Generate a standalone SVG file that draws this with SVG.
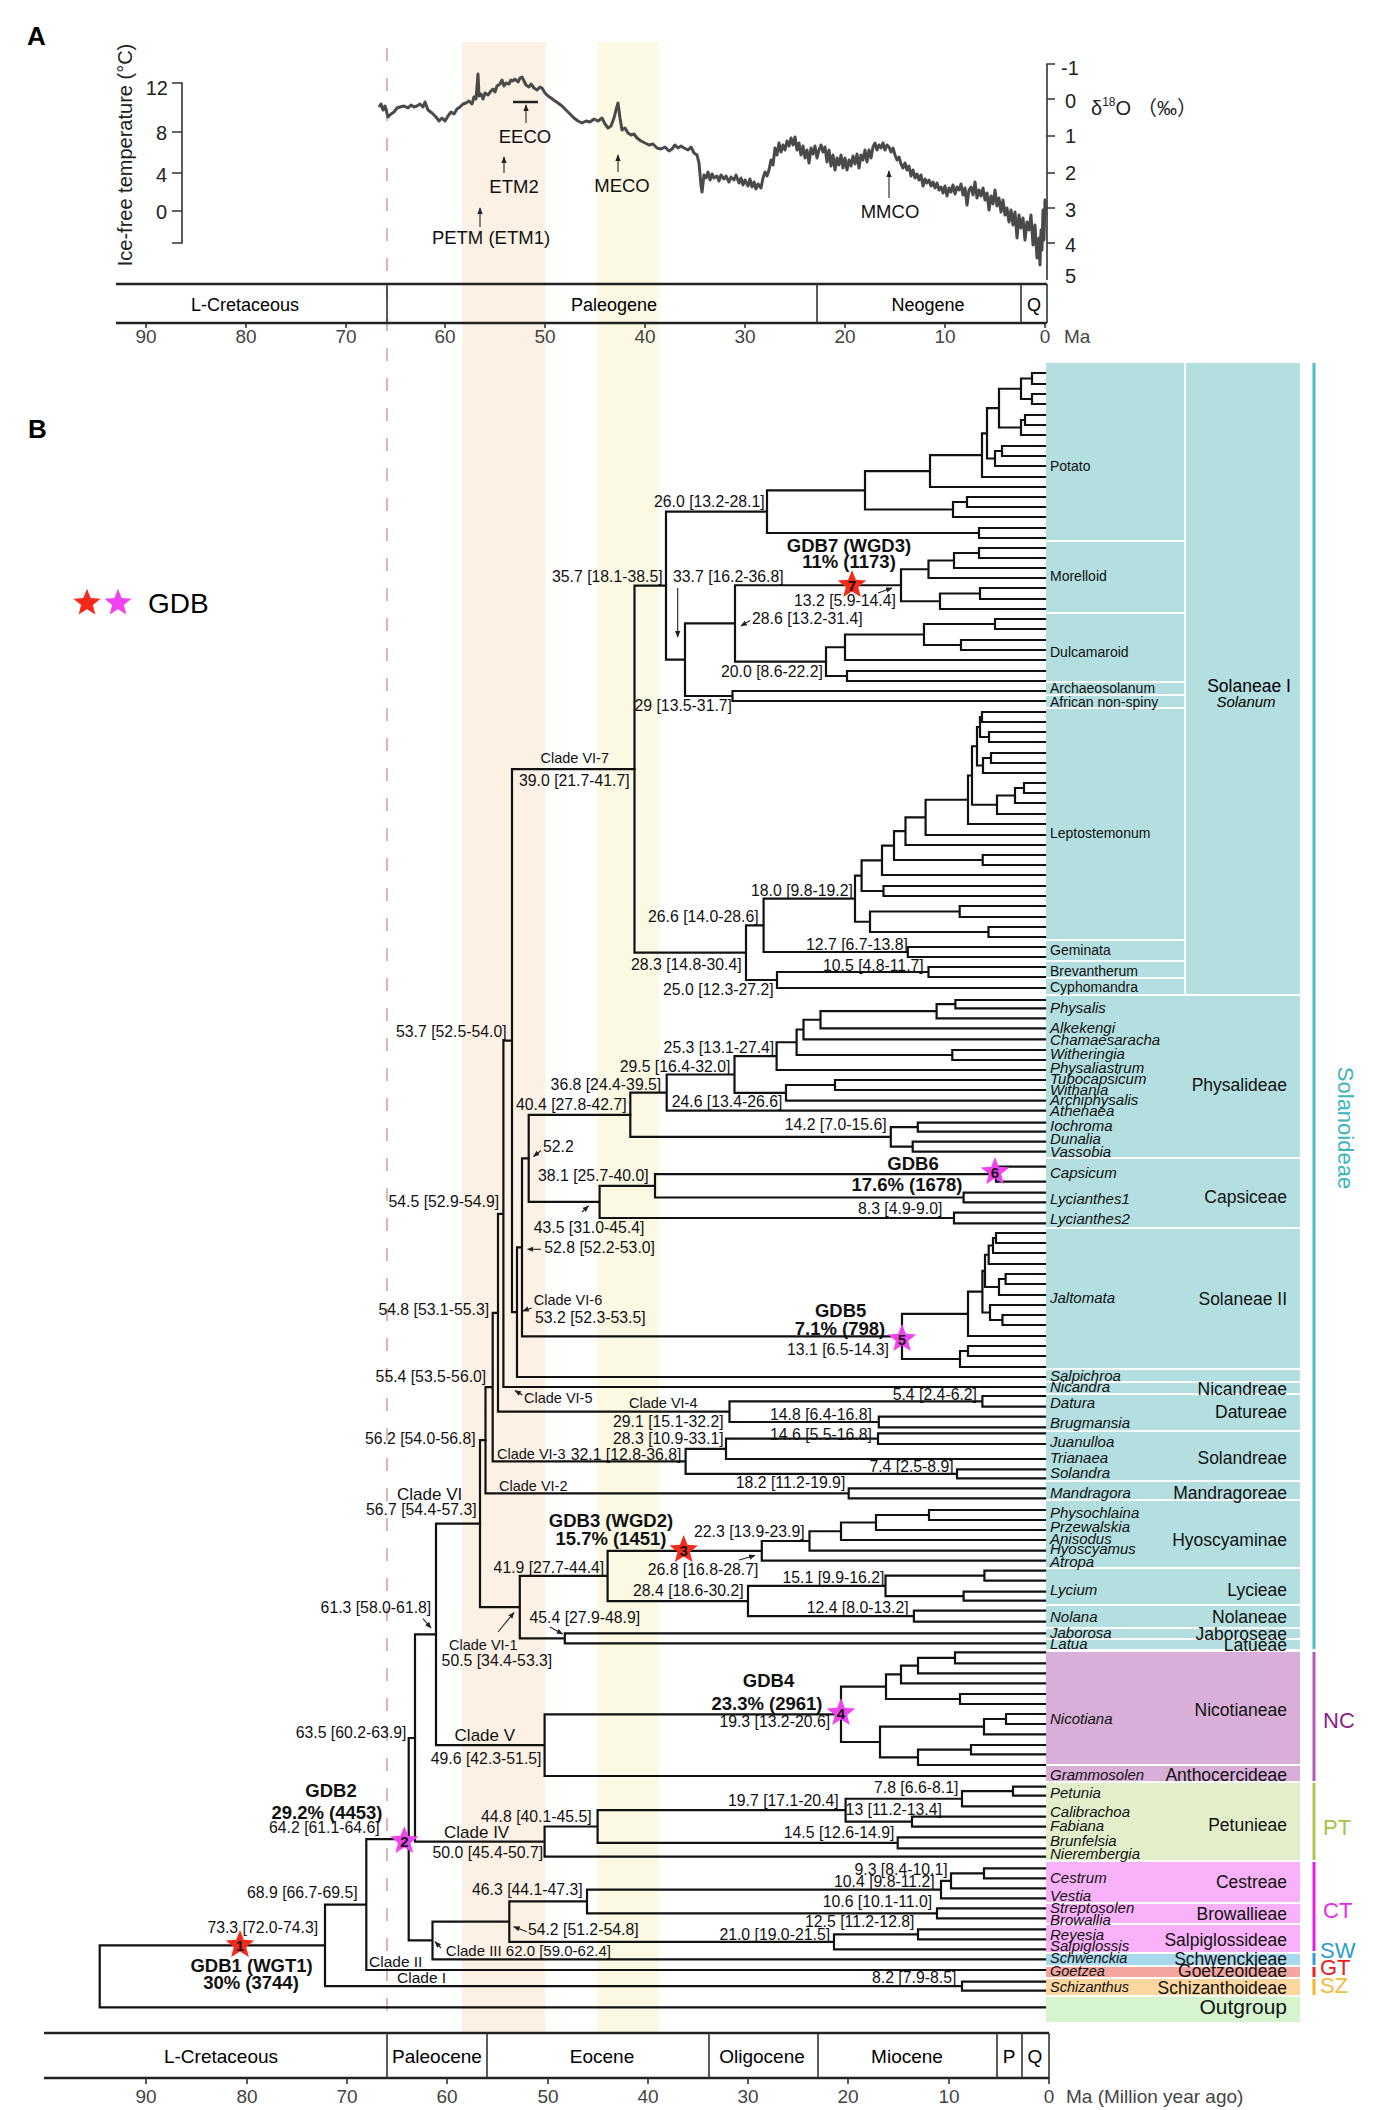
<svg xmlns="http://www.w3.org/2000/svg" xmlns:xlink="http://www.w3.org/1999/xlink" width="1384" height="2110" viewBox="0 0 1384 2110">
<style>
text{font-family:"Liberation Sans",Arial,sans-serif}
.br{fill:none;stroke:#111;stroke-width:2.2;stroke-linejoin:miter;stroke-linecap:square}
.ax{fill:none;stroke:#333;stroke-width:1.6}
.axb{fill:none;stroke:#222;stroke-width:2.6}
.nl{font-size:15.8px;fill:#111}
.cl{font-size:14.5px;fill:#111}
.cb{font-size:17px;fill:#111}
.gd{font-size:18.5px;font-weight:bold;text-anchor:middle;fill:#111}
.tip{font-size:15px;font-style:italic;fill:#111}
.sub{font-size:14px;fill:#111}
.tr{font-size:17.5px;text-anchor:end;fill:#111}
.sn{font-size:15px;font-weight:bold;text-anchor:middle;fill:#111}
.tk{font-size:19px;fill:#444;text-anchor:middle}
.ar{fill:none;stroke:#222;stroke-width:1.1}
.ev{font-size:18.5px;text-anchor:middle;fill:#111}
.gl{font-size:22px}
</style>
<defs>
<marker id="ah" viewBox="0 0 10 10" refX="9" refY="5" markerWidth="6" markerHeight="6" orient="auto"><path d="M0,1 L10,5 L0,9 z" fill="#222"/></marker>
<path id="star" d="M0,-15 L3.8,-5.3 L14.3,-4.6 L6.2,2 L8.8,12.1 L0,6.5 L-8.8,12.1 L-6.2,2 L-14.3,-4.6 L-3.8,-5.3 Z"/>
</defs>
<rect width="1384" height="2110" fill="#fff"/>
<g id="bands">
<rect x="462" y="42" width="83.5" height="1991" fill="#fdf1e6"/>
<rect x="597" y="42" width="62" height="1991" fill="#fbf9e4"/>
<line x1="387" y1="48" x2="387" y2="2018" stroke="#d6a3a3" stroke-width="1.6" stroke-dasharray="13 17"/>
</g>
<g id="panelA">
<text x="27" y="45" font-size="26" font-weight="bold">A</text>
<path class="ax" d="M172 83H182V243H172M172 132H182M172 173H182M172 211H182"/>
<g font-size="20" text-anchor="end" fill="#222"><text x="168" y="95">12</text><text x="167" y="140">8</text><text x="167" y="182">4</text><text x="167" y="219">0</text></g>
<text transform="translate(132,155) rotate(-90)" font-size="20" text-anchor="middle" fill="#222">Ice-free temperature (°C)</text>
<path class="ax" d="M1055 64H1047V280M1047 99H1055M1047 136H1055M1047 173H1055M1047 208H1055M1047 243H1055"/>
<g font-size="20" fill="#222"><text x="1061" y="75">-1</text><text x="1065" y="108">0</text><text x="1065" y="143">1</text><text x="1065" y="180">2</text><text x="1065" y="217">3</text><text x="1065" y="252">4</text><text x="1065" y="283">5</text></g>
<text x="1091" y="115" font-size="20" fill="#222">δ<tspan font-size="12" dy="-9">18</tspan><tspan dy="9">O</tspan><tspan dx="6" font-family="'Liberation Sans','Noto Sans CJK SC',sans-serif">（‰）</tspan></text>
<polyline fill="none" stroke="#4a4a4a" stroke-width="3" stroke-linejoin="round" points="379,107 381,104 383,110 385,106 388,117 391,114 394,112 397,108 400,107 404,106 408,108 411,105 414,107 417,106 420,104 423,107 425,102 428,110 432,113 436,117 439,121 442,118 445,121 448,116 451,112 454,114 457,109 460,107 463,104 466,103 469,101 472,104 474,97 476,99 478,74 479,96 481,94 483,99 485,93 488,95 491,91 493,89 495,92 497,86 500,84 502,80 504,86 506,83 509,84 511,80 513,81 515,79 518,82 520,78 522,77 524,81 526,85 529,87 531,84 534,88 537,90 540,87 542,88 545,93 548,96 551,98 555,101 558,103 562,106 566,110 570,114 574,118 578,121 582,123 586,121 590,122 594,119 598,121 602,118 605,124 608,128 611,126 614,118 616,110 618,103 620,118 622,130 625,128 628,133 631,135 634,134 637,138 641,141 645,143 649,145 653,144 657,148 661,149 665,147 669,151 672,149 675,145 678,148 681,146 684,148 688,150 691,147 694,153 697,155 699,163 701,185 702,192 704,175 706,178 708,172 710,180 712,174 714,178 717,176 719,181 721,175 724,179 726,176 729,182 731,177 734,180 736,175 739,183 741,178 743,185 745,180 748,186 750,179 752,187 754,182 756,189 758,184 761,188 763,178 765,172 767,176 769,170 771,160 773,165 775,148 777,155 779,143 781,152 783,145 785,150 787,141 789,146 791,138 793,145 795,137 797,150 799,143 801,155 803,146 805,158 807,150 809,163 811,148 813,154 815,146 817,158 819,150 821,145 823,152 825,147 827,162 829,150 831,166 833,155 835,170 837,158 839,165 841,155 843,168 845,158 847,170 849,160 851,166 853,156 855,164 857,154 859,168 861,155 863,160 865,150 867,162 869,150 871,158 873,147 875,143 877,150 879,145 881,148 883,143 885,150 887,145 889,147 891,152 893,148 895,155 897,160 899,157 901,164 903,168 905,163 907,170 909,166 911,176 913,170 915,178 917,174 919,180 921,175 923,186 925,179 927,183 929,180 931,186 933,182 935,188 937,183 939,190 941,187 943,193 945,186 947,196 949,188 951,192 953,185 955,194 957,187 959,190 961,184 963,195 965,188 967,205 969,190 971,187 973,195 975,182 977,198 979,190 981,196 983,188 985,200 987,193 989,210 991,196 993,204 995,190 997,206 999,198 1001,212 1003,200 1005,215 1007,208 1009,222 1011,210 1013,225 1015,212 1017,238 1019,215 1021,228 1023,218 1025,240 1027,222 1029,230 1031,215 1033,245 1035,225 1037,258 1039,238 1040,265 1041,230 1042,250 1043,210 1044,240 1045,200 1046,215"/>
<line x1="513" y1="102" x2="538" y2="102" stroke="#222" stroke-width="2.5"/>
<g class="ar"><line x1="526" y1="123" x2="526" y2="105" marker-end="url(#ah)"/><line x1="504" y1="173" x2="504" y2="157" marker-end="url(#ah)"/><line x1="480" y1="227" x2="480" y2="208" marker-end="url(#ah)"/><line x1="618" y1="172" x2="618" y2="155" marker-end="url(#ah)"/><line x1="889" y1="198" x2="889" y2="171" marker-end="url(#ah)"/></g>
<text class="ev" x="525" y="143">EECO</text><text class="ev" x="514" y="193">ETM2</text><text class="ev" x="491" y="244">PETM (ETM1)</text><text class="ev" x="622" y="192">MECO</text><text class="ev" x="890" y="218">MMCO</text>
<path class="axb" d="M116 284H1047M116 323H1047"/>
<path class="ax" d="M387 284V323M817 284V323M1021 284V323M1047 284V323"/>
<path class="ax" d="M146 323V328M246 323V328M346 323V328M445 323V328M545 323V328M645 323V328M745 323V328M845 323V328M945 323V328M1045 323V328"/>
<g font-size="18" text-anchor="middle"><text x="245" y="311">L-Cretaceous</text><text x="614" y="311">Paleogene</text><text x="928" y="311">Neogene</text><text x="1034" y="311">Q</text></g>
<g class="tk"><text x="146" y="343">90</text><text x="246" y="343">80</text><text x="346" y="343">70</text><text x="445" y="343">60</text><text x="545" y="343">50</text><text x="645" y="343">40</text><text x="745" y="343">30</text><text x="845" y="343">20</text><text x="945" y="343">10</text><text x="1045" y="343">0</text></g>
<text x="1064" y="343" font-size="19" fill="#444">Ma</text>
</g>
<g id="legend">
<text x="28" y="438" font-size="26" font-weight="bold">B</text>
<use href="#star" transform="translate(87,603) scale(0.95)" fill="#f52a1a"/>
<use href="#star" transform="translate(118,603) scale(0.95)" fill="#f043f0"/>
<text x="148" y="613" font-size="28">GDB</text>
</g>
<g id="blocks">
<g fill="#b3dfe0">
<rect x="1046" y="363" width="138" height="177"/><rect x="1046" y="542" width="138" height="70"/><rect x="1046" y="614" width="138" height="67"/><rect x="1046" y="683" width="138" height="11"/><rect x="1046" y="696" width="138" height="11"/><rect x="1046" y="709" width="138" height="230"/><rect x="1046" y="941" width="138" height="19"/><rect x="1046" y="962" width="138" height="15"/><rect x="1046" y="979" width="138" height="15"/>
<rect x="1186" y="363" width="114" height="631"/>
<rect x="1046" y="996" width="254" height="161"/><rect x="1046" y="1159" width="254" height="68"/><rect x="1046" y="1229" width="254" height="139"/><rect x="1046" y="1370" width="254" height="11"/><rect x="1046" y="1383" width="254" height="10"/><rect x="1046" y="1395" width="254" height="35"/><rect x="1046" y="1432" width="254" height="48"/><rect x="1046" y="1482" width="254" height="17"/><rect x="1046" y="1501" width="254" height="66"/><rect x="1046" y="1569" width="254" height="35"/><rect x="1046" y="1606" width="254" height="21"/><rect x="1046" y="1629" width="254" height="9"/><rect x="1046" y="1640" width="254" height="9"/>
</g>
<g fill="#d9afd9"><rect x="1046" y="1652" width="254" height="112"/><rect x="1046" y="1766" width="254" height="15"/></g>
<rect x="1046" y="1783" width="254" height="77" fill="#e3eecb"/>
<g fill="#f9b2f9"><rect x="1046" y="1862" width="254" height="40"/><rect x="1046" y="1904" width="254" height="19"/><rect x="1046" y="1925" width="254" height="27"/></g>
<rect x="1046" y="1954" width="254" height="11" fill="#a8d8ec"/>
<rect x="1046" y="1967" width="254" height="10" fill="#f4a5a0"/>
<rect x="1046" y="1979" width="254" height="16" fill="#fdd79f"/>
<rect x="1046" y="1997" width="254" height="25" fill="#d6f5cf"/>
</g>
<g id="subfamily-bars" stroke-width="3">
<line x1="1314" y1="363" x2="1314" y2="1649" stroke="#4dbcc4"/>
<line x1="1314" y1="1652" x2="1314" y2="1781" stroke="#b25bb2"/>
<line x1="1314" y1="1783" x2="1314" y2="1860" stroke="#a9c84c"/>
<line x1="1314" y1="1862" x2="1314" y2="1951" stroke="#e61fe6"/>
<line x1="1314" y1="1953" x2="1314" y2="1965" stroke="#2f9fd6"/>
<line x1="1314" y1="1967" x2="1314" y2="1977" stroke="#e52420"/>
<line x1="1314" y1="1979" x2="1314" y2="1995" stroke="#f5b52e"/>
</g>
<g id="subfamily-labels" class="gl">
<text transform="translate(1338,1128) rotate(90)" text-anchor="middle" style="fill:#3cb4bb">Solanoideae</text>
<text x="1323" y="1728" style="fill:#8c1d8c">NC</text>
<text x="1323" y="1835" style="fill:#a5c547">PT</text>
<text x="1323" y="1918" style="fill:#e82ae8">CT</text>
<text x="1320" y="1958" style="fill:#2b9bd1">SW</text>
<text x="1320" y="1975" style="fill:#e3211c">GT</text>
<text x="1320" y="1993" style="fill:#f6b93a">SZ</text>
</g>
<g id="connectors">
<path class="br" d="M1045 373H1032V384H1045M1045 394H1032V404H1045M1032 378.5H1021V399H1032M1045 415H1025V425H1045M1025 420H1021V435H1045M1021 388.75H999V427.5H1021M1045 446H1002V456H1045M1002 451H995V466H1045M999 408.1H987V458.5H995M987 433.3H982V477H1045M982 455.15H930V487H1045M1045 497H967V507H1045M967 502H953V517H1045M930 471.1H865V509.5H953M1045 528H979V538H1045M865 490.3H767V533H979"/>
<path class="br" d="M1045 548H979V558H1045M979 553H954V568H1045M954 560.5H928.5V578H1045M1045 588H980V599H1045M980 593.5H940V609H1045M928.5 569.25H901V601.25H940"/>
<path class="br" d="M1045 619H995V629H1045M1045 640H961V650H1045M995 624H924V645H961M924 634.5H845V660H1045M1045 671H847V681H1045M845 647.25H826V676H847"/>
<path class="br" d="M901 585.25H735V661.6H826M1045 691H732.5V701H1045M735 623.4H685V696H732.5M767 511.65H666V659.7H685"/>
<path class="br" d="M1045 712H982V722H1045M1045 732H989V742H1045M982 717H980V737H989M1045 753H991V763H1045M991 758H983V773H1045M980 727H977V765.5H983M1045 783H1024V793H1045M1024 788H1015V803H1045M1015 795.5H997V814H1045M977 746.25H972V804.75H997M972 775.5H968V824H1045M968 799.75H925.6V835H1045M925.6 817.4H905.5V845H1045M1045 855H982.7V865H1045M905.5 831.2H894V860H982.7M894 845.6H882V875H1045M1045 886H883.5V896H1045M882 860.3H861.6V891H883.5M1045 906H959.7V917H1045M1045 927H988.5V937H1045M959.7 911.5H870V932H988.5M861.6 875.65H855V921.75H870M1045 947H907.8V957H1045M855 898.7H763.6V952H907.8M1045 967H928.5V977H1045M928.5 972H777V988H1045M763.6 925.35H746V980H777M666 585.7H634.5V952.7H746"/>
<path class="br" d="M1045 1000H955.4V1008.3H1045M955.4 1004.15H936.6V1018.3H1045M936.6 1011.2H820.5V1028.3H1045M820.5 1019.75H803.5V1039.3H1045M1045 1050H952.3V1060H1045M803.5 1029.5H796.6V1055H952.3M796.6 1042.25H776.6V1070H1045M1045 1080H835V1090H1045M835 1085H786V1100.7H1045M776.6 1056.1H734.5V1092.85H786M734.5 1074.5H666.7V1110.7H1045M1045 1122.7H917.8V1131.7H1045M1045 1141.7H912.7V1151.7H1045M917.8 1127.2H890.8V1146.7H912.7M666.7 1092.6H630.3V1136.95H890.8"/>
<path class="br" d="M1045 1166.7H996V1181.7H1045M1045 1192.7H963.6V1202.3H1045M996 1174.2H655V1197.5H963.6M1045 1212.7H954V1223.3H1045M655 1185.85H599.6V1218H954M630.3 1114.8H528.7V1201.9H599.6"/>
<path class="br" d="M1045 1233H996V1243H1045M996 1238H993V1253H1045M993 1245.5H988.7V1264H1045M1045 1274H1005.6V1284H1045M1005.6 1279H999V1295H1045M988.7 1254.75H985V1287H999M1045 1315H1002.5V1325H1045M1045 1305H990V1320H1002.5M985 1270.9H982.4V1312.5H990M982.4 1291.7H968V1336H1045M1045 1346H968V1356H1045M968 1351H960V1367H1045M968 1313.85H902V1359H960"/>
<path class="br" d="M528.7 1158.35H522V1336.4H902M522 1247.4H517V1377H1045M634.5 769.2H512V1312.2H517M512 1040.7H503.4V1387H1045M1045 1396H982.4V1406.7H1045M1045 1416.7H878.8V1427.3H1045M982.4 1401.35H729.5V1422H878.8M503.4 1213.85H498V1411.7H729.5M1045 1433.3H878V1444H1045M878 1438.65H726V1459H1045M1045 1469.3H957V1478.3H1045M726 1448.8H685.6V1473.8H957M498 1312.8H492.7V1461.3H685.6M1045 1488.3H848.7V1498.3H1045M492.7 1387.05H485.5V1493.3H848.7"/>
<path class="br" d="M1045 1510H929V1520H1045M929 1515H876V1530H1045M876 1522.5H841V1540H1045M841 1531.25H809.5V1550.7H1045M809.5 1541H761.8V1560.7H1045M1045 1570.7H984.4V1580.7H1045M1045 1591.7H963.6V1600.7H1045M984.4 1575.7H885.5V1596.2H963.6M1045 1610.7H913.9V1621.7H1045M885.5 1585.95H748V1616.2H913.9M761.8 1550.85H607.6V1601.1H748M1045 1633.3H564.8V1643.3H1045M607.6 1575.95H519.8V1638.3H564.8M485.5 1440.2H480V1607.1H519.8"/>
<path class="br" d="M1045 1652.3H955V1663.3H1045M955 1657.8H918V1673.3H1045M918 1665.55H901V1683.3H1045M1045 1694H960V1704H1045M901 1674.4H886V1699H960M1045 1714H1006V1724H1045M1006 1719H984V1734.3H1045M1045 1745H971V1754.3H1045M971 1749.65H918V1765H1045M984 1726.65H880V1757.3H918M886 1686.7H841V1742H880M841 1714.35H544.6V1776H1045M480 1523.65H436V1745.2H544.6"/>
<path class="br" d="M1045 1786.7H1013V1795.7H1045M1013 1791.2H962V1806.3H1045M1045 1816.7H912V1826.7H1045M962 1798.75H845.6V1821.7H912M1045 1837.3H897.7V1848.3H1045M845.6 1810.2H597.6V1842.8H897.7M597.6 1826.5H544.6V1856.7H1045M436 1634.4H415V1841.6H544.6"/>
<path class="br" d="M1045 1868.3H984V1878.3H1045M984 1873.3H951V1888.3H1045M951 1880.8H941V1898.3H1045M1045 1908.3H937V1918.3H1045M941 1889.55H587V1913.3H937M1045 1929.3H918V1939.3H1045M918 1934.3H834V1949.3H1045M587 1901.4H509.3V1941.8H834M509.3 1921.6H432.5V1959.3H1045M415 1738H408.7V1940.45H432.5M408.7 1839.2H366.3V1970H1045M1045 1981.7H962V1990.7H1045M366.3 1904.6H325V1986.2H962M325 1945.4H99.7V2007.3H1045"/>
<g class="ar">
<line x1="878" y1="593" x2="892" y2="588" marker-end="url(#ah)"/>
<line x1="750" y1="620.5" x2="741" y2="626" marker-end="url(#ah)"/>
<line x1="677.7" y1="588" x2="677.7" y2="637" marker-end="url(#ah)"/>
<line x1="541" y1="1150.5" x2="533.5" y2="1156.5" marker-end="url(#ah)"/>
<line x1="582" y1="1212" x2="588.5" y2="1206" marker-end="url(#ah)"/>
<line x1="541" y1="1249.3" x2="527.5" y2="1249.3" marker-end="url(#ah)"/>
<line x1="531.8" y1="1308" x2="522.8" y2="1311" marker-end="url(#ah)"/>
<line x1="522.4" y1="1395" x2="515" y2="1390.5" marker-end="url(#ah)"/>
<line x1="739" y1="1560" x2="755" y2="1555.5" marker-end="url(#ah)"/>
<line x1="550" y1="1627" x2="562.5" y2="1634" marker-end="url(#ah)"/>
<line x1="498" y1="1632" x2="514" y2="1612.5" marker-end="url(#ah)"/>
<line x1="423" y1="1618.7" x2="431" y2="1628" marker-end="url(#ah)"/>
<line x1="527" y1="1931.7" x2="513.7" y2="1926.7" marker-end="url(#ah)"/>
<line x1="441" y1="1948" x2="435" y2="1941.7" marker-end="url(#ah)"/>
</g>
</g>
<g id="node-labels" class="nl">
<text class="nl" x="654" y="507">26.0 [13.2-28.1]</text>
<text class="nl" x="552" y="581.5">35.7 [18.1-38.5]</text>
<text class="nl" x="673" y="581.5">33.7 [16.2-36.8]</text>
<text class="nl" x="794" y="605.5">13.2 [5.9-14.4]</text>
<text class="nl" x="752" y="624">28.6 [13.2-31.4]</text>
<text class="nl" x="721" y="676.5">20.0 [8.6-22.2]</text>
<text class="nl" x="634.5" y="710.5">29 [13.5-31.7]</text>
<text class="nl" x="519" y="785.5">39.0 [21.7-41.7]</text>
<text class="nl" x="751" y="896">18.0 [9.8-19.2]</text>
<text class="nl" x="648" y="922">26.6 [14.0-28.6]</text>
<text class="nl" x="806" y="950">12.7 [6.7-13.8]</text>
<text class="nl" x="631" y="970">28.3 [14.8-30.4]</text>
<text class="nl" x="823" y="970.5">10.5 [4.8-11.7]</text>
<text class="nl" x="663" y="995">25.0 [12.3-27.2]</text>
<text class="nl" x="396" y="1037">53.7 [52.5-54.0]</text>
<text class="nl" x="663.6" y="1053">25.3 [13.1-27.4]</text>
<text class="nl" x="619.7" y="1072">29.5 [16.4-32.0]</text>
<text class="nl" x="550.6" y="1090">36.8 [24.4-39.5]</text>
<text class="nl" x="671.7" y="1106.5">24.6 [13.4-26.6]</text>
<text class="nl" x="516" y="1110">40.4 [27.8-42.7]</text>
<text class="nl" x="784.7" y="1130">14.2 [7.0-15.6]</text>
<text class="nl" x="543" y="1152">52.2</text>
<text class="nl" x="538" y="1180.5">38.1 [25.7-40.0]</text>
<text class="nl" x="388.5" y="1207">54.5 [52.9-54.9]</text>
<text class="nl" x="858" y="1214">8.3 [4.9-9.0]</text>
<text class="nl" x="533.7" y="1232.5">43.5 [31.0-45.4]</text>
<text class="nl" x="544.3" y="1253">52.8 [52.2-53.0]</text>
<text class="nl" x="535" y="1323">53.2 [52.3-53.5]</text>
<text class="nl" x="378.4" y="1315">54.8 [53.1-55.3]</text>
<text class="nl" x="787" y="1355">13.1 [6.5-14.3]</text>
<text class="nl" x="375.6" y="1382">55.4 [53.5-56.0]</text>
<text class="nl" x="892.7" y="1400">5.4 [2.4-6.2]</text>
<text class="nl" x="770" y="1420">14.8 [6.4-16.8]</text>
<text class="nl" x="613" y="1426.5">29.1 [15.1-32.2]</text>
<text class="nl" x="770" y="1440">14.6 [5.5-16.8]</text>
<text class="nl" x="365" y="1444">56.2 [54.0-56.8]</text>
<text class="nl" x="613" y="1444">28.3 [10.9-33.1]</text>
<text class="nl" x="570.7" y="1460">32.1 [12.8-36.8]</text>
<text class="nl" x="869.4" y="1471.5">7.4 [2.5-8.9]</text>
<text class="nl" x="735.8" y="1488.3">18.2 [11.2-19.9]</text>
<text class="nl" x="366" y="1515">56.7 [54.4-57.3]</text>
<text class="nl" x="694" y="1536.5">22.3 [13.9-23.9]</text>
<text class="nl" x="493.6" y="1573.3">41.9 [27.7-44.4]</text>
<text class="nl" x="647.7" y="1575">26.8 [16.8-28.7]</text>
<text class="nl" x="782.5" y="1582.7">15.1 [9.9-16.2]</text>
<text class="nl" x="633" y="1596">28.4 [18.6-30.2]</text>
<text class="nl" x="320.6" y="1613">61.3 [58.0-61.8]</text>
<text class="nl" x="806.7" y="1613.3">12.4 [8.0-13.2]</text>
<text class="nl" x="529.5" y="1623.3">45.4 [27.9-48.9]</text>
<text class="nl" x="441.6" y="1665.5">50.5 [34.4-53.3]</text>
<text class="nl" x="719.4" y="1727.3">19.3 [13.2-20.6]</text>
<text class="nl" x="295.7" y="1738">63.5 [60.2-63.9]</text>
<text class="nl" x="430.8" y="1764">49.6 [42.3-51.5]</text>
<text class="nl" x="874" y="1793.3">7.8 [6.6-8.1]</text>
<text class="nl" x="728" y="1806">19.7 [17.1-20.4]</text>
<text class="nl" x="845.6" y="1815">13 [11.2-13.4]</text>
<text class="nl" x="481" y="1821.7">44.8 [40.1-45.5]</text>
<text class="nl" x="269" y="1833.3">64.2 [61.1-64.6]</text>
<text class="nl" x="783.8" y="1838.3">14.5 [12.6-14.9]</text>
<text class="nl" x="432.5" y="1858.3">50.0 [45.4-50.7]</text>
<text class="nl" x="854.5" y="1875">9.3 [8.4-10.1]</text>
<text class="nl" x="834" y="1886.7">10.4 [9.8-11.2]</text>
<text class="nl" x="472" y="1895">46.3 [44.1-47.3]</text>
<text class="nl" x="247" y="1898">68.9 [66.7-69.5]</text>
<text class="nl" x="822.7" y="1906.7">10.6 [10.1-11.0]</text>
<text class="nl" x="805" y="1926.7">12.5 [11.2-12.8]</text>
<text class="nl" x="207.4" y="1933.3">73.3 [72.0-74.3]</text>
<text class="nl" x="527.9" y="1935">54.2 [51.2-54.8]</text>
<text class="nl" x="719.4" y="1940">21.0 [19.0-21.5]</text>
<text x="445.8" y="1955.7" font-size="15" fill="#111">Clade III 62.0 [59.0-62.4]</text>
<text class="nl" x="872" y="1982.7">8.2 [7.9-8.5]</text>
</g>
<g id="clade-labels">
<text class="cl" x="540.5" y="762.5">Clade VI-7</text>
<text class="cl" x="533.7" y="1305">Clade VI-6</text>
<text class="cl" x="524" y="1403">Clade VI-5</text>
<text class="cl" x="629" y="1408">Clade VI-4</text>
<text class="cl" x="497" y="1459">Clade VI-3</text>
<text class="cl" x="499" y="1490.5">Clade VI-2</text>
<text class="cl" x="449" y="1650">Clade VI-1</text>
<text class="cb" x="397" y="1499.5">Clade VI</text>
<text class="cb" x="454.6" y="1741">Clade V</text>
<text class="cb" x="444" y="1838.3">Clade IV</text>
<text x="369" y="1966.7" font-size="15.5" fill="#111">Clade II</text>
<text x="397" y="1982.7" font-size="15.5" fill="#111">Clade I</text>
</g>
<g id="gdb-events">
<g id="gdb7"><text class="gd" x="849" y="551.5">GDB7 (WGD3)</text><text class="gd" x="849" y="568.3">11% (1173)</text><use href="#star" x="852" y="585" fill="#f52a1a"/><text class="sn" x="852" y="591">7</text></g>
<g id="gdb6"><text class="gd" x="913" y="1170">GDB6</text><text class="gd" x="907" y="1190.7">17.6% (1678)</text><use href="#star" x="995" y="1172" fill="#f043f0"/><text class="sn" x="995" y="1178">6</text></g>
<g id="gdb5"><text class="gd" x="840.6" y="1317.3">GDB5</text><text class="gd" x="840" y="1335">7.1% (798)</text><use href="#star" x="902" y="1339" fill="#f043f0"/><text class="sn" x="902" y="1345">5</text></g>
<g id="gdb3"><text class="gd" x="611" y="1526.7">GDB3 (WGD2)</text><text class="gd" x="611" y="1545">15.7% (1451)</text><use href="#star" x="683.7" y="1550" fill="#f52a1a"/><text class="sn" x="683.7" y="1556">3</text></g>
<g id="gdb4"><text class="gd" x="768.5" y="1686.7">GDB4</text><text class="gd" x="767" y="1710">23.3% (2961)</text><use href="#star" x="841" y="1713" fill="#f043f0"/><text class="sn" x="841" y="1719">4</text></g>
<g id="gdb2"><text class="gd" x="331" y="1796.7">GDB2</text><text class="gd" x="327" y="1819.3">29.2% (4453)</text><use href="#star" x="404.3" y="1841" fill="#f043f0"/><text class="sn" x="404.3" y="1847">2</text></g>
<g id="gdb1"><use href="#star" x="240" y="1945" fill="#f52a1a"/><text class="sn" x="240" y="1951">1</text><text class="gd" x="251.6" y="1971.7">GDB1 (WGT1)</text><text class="gd" x="251" y="1989.3">30% (3744)</text></g>
</g>
<g id="tip-labels">
<g class="sub"><text class="sub" x="1050" y="471">Potato</text><text class="sub" x="1050" y="581">Morelloid</text><text class="sub" x="1050" y="657">Dulcamaroid</text><text class="sub" x="1050" y="693">Archaeosolanum</text><text class="sub" x="1050" y="707">African non-spiny</text><text class="sub" x="1050" y="838">Leptostemonum</text><text class="sub" x="1050" y="955">Geminata</text><text class="sub" x="1050" y="975.5">Brevantherum</text><text class="sub" x="1050" y="991.5">Cyphomandra</text></g>
<g>
<text class="tip" x="1050" y="1013">Physalis</text><text class="tip" x="1050" y="1033">Alkekengi</text><text class="tip" x="1050" y="1045">Chamaesaracha</text><text class="tip" x="1050" y="1059">Witheringia</text><text class="tip" x="1050" y="1073">Physaliastrum</text><text class="tip" x="1050" y="1084">Tubocapsicum</text><text class="tip" x="1050" y="1095">Withania</text><text class="tip" x="1050" y="1105">Archiphysalis</text><text class="tip" x="1050" y="1116">Athenaea</text><text class="tip" x="1050" y="1131">Iochroma</text><text class="tip" x="1050" y="1144">Dunalia</text><text class="tip" x="1050" y="1156.5">Vassobia</text>
<text class="tip" x="1050" y="1178">Capsicum</text><text class="tip" x="1050" y="1204">Lycianthes1</text><text class="tip" x="1050" y="1224">Lycianthes2</text>
<text class="tip" x="1050" y="1303">Jaltomata</text><text class="tip" x="1050" y="1381">Salpichroa</text><text class="tip" x="1050" y="1392">Nicandra</text><text class="tip" x="1050" y="1407.5">Datura</text><text class="tip" x="1050" y="1427.5">Brugmansia</text><text class="tip" x="1050" y="1446.5">Juanulloa</text><text class="tip" x="1050" y="1463">Trianaea</text><text class="tip" x="1050" y="1477.5">Solandra</text><text class="tip" x="1050" y="1498">Mandragora</text>
<text class="tip" x="1050" y="1518">Physochlaina</text><text class="tip" x="1050" y="1532">Przewalskia</text><text class="tip" x="1050" y="1544">Anisodus</text><text class="tip" x="1050" y="1554">Hyoscyamus</text><text class="tip" x="1050" y="1566.5">Atropa</text><text class="tip" x="1050" y="1595">Lycium</text><text class="tip" x="1050" y="1622">Nolana</text><text class="tip" x="1050" y="1638">Jaborosa</text><text class="tip" x="1050" y="1649">Latua</text>
<text class="tip" x="1050" y="1724">Nicotiana</text><text class="tip" x="1050" y="1780">Grammosolen</text><text class="tip" x="1050" y="1798">Petunia</text><text class="tip" x="1050" y="1816.5">Calibrachoa</text><text class="tip" x="1050" y="1831">Fabiana</text><text class="tip" x="1050" y="1845.5">Brunfelsia</text><text class="tip" x="1050" y="1859">Nierembergia</text>
<text class="tip" x="1050" y="1883">Cestrum</text><text class="tip" x="1050" y="1901">Vestia</text><text class="tip" x="1050" y="1913">Streptosolen</text><text class="tip" x="1050" y="1925">Browallia</text><text class="tip" x="1050" y="1940">Reyesia</text><text class="tip" x="1050" y="1951">Salpiglossis</text><text class="tip" x="1050" y="1963" style="font-size:14.5px">Schwenckia</text><text class="tip" x="1050" y="1975.5" style="font-size:14.5px">Goetzea</text><text class="tip" x="1050" y="1992" style="font-size:14.5px">Schizanthus</text>
</g>
</g>
<g id="tribe-labels">
<text x="1249" y="692" font-size="17.5" text-anchor="middle">Solaneae I</text>
<text x="1246" y="707" font-size="15" font-style="italic" text-anchor="middle">Solanum</text>
<g><text class="tr" x="1287" y="1091">Physalideae</text><text class="tr" x="1287" y="1203">Capsiceae</text><text class="tr" x="1287" y="1304.5">Solaneae II</text><text class="tr" x="1287" y="1394.5">Nicandreae</text><text class="tr" x="1287" y="1418">Datureae</text><text class="tr" x="1287" y="1463.5">Solandreae</text><text class="tr" x="1287" y="1498.5">Mandragoreae</text><text class="tr" x="1287" y="1545.5">Hyoscyaminae</text><text class="tr" x="1287" y="1595.5">Lycieae</text><text class="tr" x="1287" y="1623">Nolaneae</text><text class="tr" x="1287" y="1639.5">Jaboroseae</text><text class="tr" x="1287" y="1651">Latueae</text><text class="tr" x="1287" y="1716">Nicotianeae</text><text class="tr" x="1287" y="1781">Anthocercideae</text><text class="tr" x="1287" y="1831">Petunieae</text><text class="tr" x="1287" y="1888">Cestreae</text><text class="tr" x="1287" y="1920">Browallieae</text><text class="tr" x="1287" y="1946">Salpiglossideae</text><text class="tr" x="1287" y="1965">Schwenckieae</text><text class="tr" x="1287" y="1977">Goetzeoideae</text><text class="tr" x="1287" y="1993.5">Schizanthoideae</text><text class="tr" x="1287" y="2014" style="font-size:21px">Outgroup</text></g>
</g>
<g id="timescaleB">
<path class="axb" d="M44 2033H1049M44 2078H1049"/>
<path class="ax" d="M387 2033V2078M487 2033V2078M709 2033V2078M818 2033V2078M997 2033V2078M1022 2033V2078M1049 2033V2078"/>
<path class="ax" d="M146 2078V2084M247 2078V2084M347 2078V2084M447 2078V2084M548 2078V2084M648 2078V2084M748 2078V2084M848 2078V2084M949 2078V2084M1049 2078V2084"/>
<g font-size="19" text-anchor="middle"><text x="221" y="2063">L-Cretaceous</text><text x="437" y="2063">Paleocene</text><text x="602" y="2063">Eocene</text><text x="762" y="2063">Oligocene</text><text x="907" y="2063">Miocene</text><text x="1009" y="2063">P</text><text x="1035" y="2063">Q</text></g>
<g class="tk"><text class="tk" x="146" y="2103">90</text><text class="tk" x="247" y="2103">80</text><text class="tk" x="347" y="2103">70</text><text class="tk" x="447" y="2103">60</text><text class="tk" x="548" y="2103">50</text><text class="tk" x="648" y="2103">40</text><text class="tk" x="748" y="2103">30</text><text class="tk" x="848" y="2103">20</text><text class="tk" x="949" y="2103">10</text><text class="tk" x="1049" y="2103">0</text></g>
<text x="1066" y="2103" font-size="19" fill="#444">Ma (Million year ago)</text>
</g>
</svg>
